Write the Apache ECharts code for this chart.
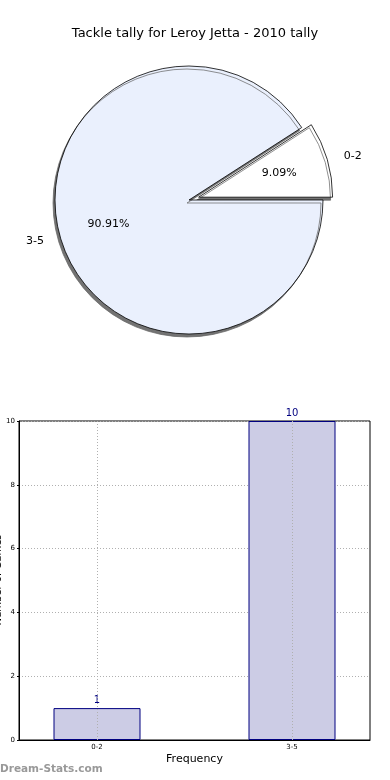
<!DOCTYPE html>
<html>
<head>
<meta charset="utf-8">
<script src="https://cdn.jsdelivr.net/npm/echarts@6/dist/echarts.min.js"></script>
<style>
html,body{margin:0;padding:0;background:#fff;}
#chart{width:390px;height:780px;}
</style>
</head>
<body>
<div id="chart"></div>
<script>
var categories = ['0-2', '3-5'];
var tallyValues = [1, 10];
var yTicks = [0, 2, 4, 6, 8, 10];
var chartTitle = 'Tackle tally for Leroy Jetta - 2010 tally';
var xName = 'Frequency';
var yName = 'Number of Games';

var font = 'DejaVu Sans, sans-serif';
var pieColors = ['#ffffff', '#eaf0fd'];
var pieData = categories.map(function (c, i) {
  return { name: c, value: tallyValues[i], selected: i === 0, itemStyle: { color: pieColors[i] } };
});
var pieLabelData = categories.map(function (c, i) {
  return { name: c, value: tallyValues[i], selected: i === 0 };
});
var barData = categories.map(function (c, i) { return [i, tallyValues[i]]; });
var vGridLines = categories.map(function (c, i) { return { xAxis: i }; });

var chart = echarts.init(document.getElementById('chart'), null, { renderer: 'canvas' });
chart.setOption({
  animation: false,
  backgroundColor: '#ffffff',
  textStyle: { fontFamily: font },
  title: {
    text: chartTitle,
    left: 'center',
    top: 22,
    textStyle: { fontFamily: font, fontSize: 13, fontWeight: 'normal', color: '#000' }
  },
  grid: [{
    left: 19, top: 421, width: 351, height: 319,
    containLabel: false, outerBoundsMode: 'none',
    show: true, borderColor: '#000', borderWidth: 1, backgroundColor: 'transparent'
  }],
  xAxis: [{
    type: 'value', gridIndex: 0, min: -0.4, max: 1.4,
    name: xName, nameLocation: 'middle', nameGap: 14,
    nameTextStyle: { fontFamily: font, fontSize: 11, color: '#000' },
    axisLine: { show: true, onZero: false, lineStyle: { color: '#000' } },
    axisTick: { show: true, inside: true, length: 3, customValues: [0, 1], lineStyle: { color: '#000' } },
    axisLabel: {
      customValues: [0, 1], fontSize: 7, color: '#000', margin: 4,
      formatter: function (v) { return categories[Math.round(v)]; }
    },
    splitLine: { show: false }
  }],
  yAxis: [{
    type: 'value', gridIndex: 0, min: 0, max: 10, interval: 2,
    axisLine: { show: true, onZero: false, lineStyle: { color: '#000' } },
    axisTick: { show: true, inside: false, length: 2, lineStyle: { color: '#000' } },
    axisLabel: { fontSize: 7, color: '#000', margin: 4,
      formatter: function (v) { return yTicks.indexOf(v) >= 0 ? String(v) : ''; } },
    splitLine: { show: true, lineStyle: { color: '#b0b0b0', type: [1, 2], width: 1 } }
  }],
  series: [
    {
      type: 'pie',
      center: [189, 200],
      radius: [0, 134],
      startAngle: 32.73,
      clockwise: true,
      selectedMode: 'single',
      selectedOffset: 10,
      silent: true,
      avoidLabelOverlap: false,
      itemStyle: {
        borderColor: '#000', borderWidth: 0.8,
        shadowColor: 'rgba(100,100,100,0.9)', shadowBlur: 0, shadowOffsetX: -2, shadowOffsetY: 3
      },
      label: { show: true, position: 'outside', formatter: '{b}', fontFamily: font, fontSize: 11, color: '#000' },
      labelLine: { show: false, length: 12, length2: 0 },
      emphasis: { disabled: true },
      data: pieData
    },
    {
      type: 'pie',
      center: [189, 200],
      radius: [0, 162],
      startAngle: 32.73,
      clockwise: true,
      selectedMode: 'single',
      selectedOffset: 10,
      silent: true,
      z: 3,
      percentPrecision: 2,
      itemStyle: { color: 'rgba(0,0,0,0)', borderWidth: 0 },
      label: { show: true, position: 'inside', formatter: '{d}%', fontFamily: font, fontSize: 11, color: '#000' },
      emphasis: { disabled: true },
      data: pieLabelData
    },
    {
      type: 'bar',
      xAxisIndex: 0, yAxisIndex: 0,
      barWidth: 87,
      data: barData,
      itemStyle: { color: '#ccccE5', borderColor: '#000080', borderWidth: 1 },
      label: { show: true, position: 'top', distance: 3, fontFamily: font, fontSize: 10, color: '#000080' },
      emphasis: { disabled: true },
      markLine: {
        silent: true, symbol: 'none', z: 5,
        label: { show: false },
        lineStyle: { color: '#b0b0b0', type: [1, 2], width: 1 },
        emphasis: { disabled: true },
        data: vGridLines
      }
    }
  ],
  graphic: [
    {
      type: 'text', x: -2, y: 580, rotation: Math.PI / 2,
      style: { text: yName, font: '10px ' + font, fill: '#000', align: 'center', verticalAlign: 'middle' }
    },
    {
      type: 'text', left: 0, top: 764,
      style: { text: 'Dream-Stats.com', font: 'bold 10.5px ' + font, fill: '#999999' }
    }
  ]
});
</script>
</body>
</html>
